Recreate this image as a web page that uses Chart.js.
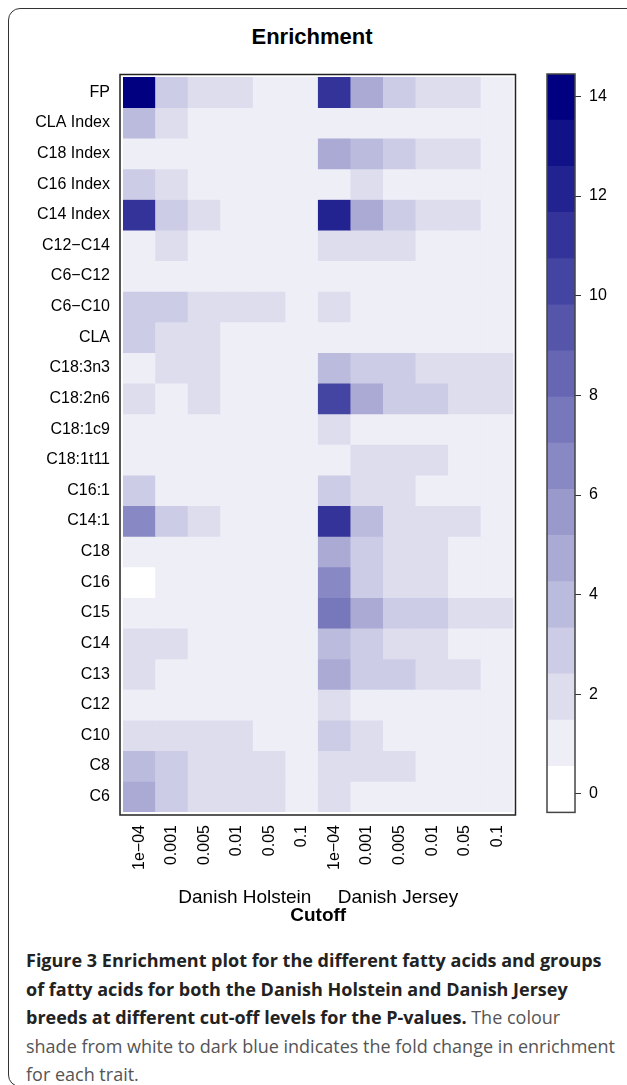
<!DOCTYPE html>
<html>
<head>
<meta charset="utf-8">
<script src="https://cdn.jsdelivr.net/npm/chart.js@4.4.1/dist/chart.umd.min.js"></script>
<style>
  html, body { margin: 0; padding: 0; background: #fff; overflow: hidden; }
  body { width: 627px; height: 1085px; position: relative; font-family: 'Liberation Sans', Arial, sans-serif; }
  #frame { position: absolute; left: 8px; top: 8px; width: 700px; height: 1079px; border: 1.5px solid #333; border-radius: 12px; box-sizing: border-box; }
  #title { position: absolute; left: 0; width: 624px; top: 24px; text-align: center; font-weight: bold; font-size: 22px; line-height: 26px; color: #000; }
  #heat { position: absolute; left: 0; top: 0; }
  #key { position: absolute; left: 520px; top: 0; }
  #caption { position: absolute; left: 26px; top: 946px; white-space: nowrap; font-family: 'Open Sans', Lato, sans-serif; font-size: 18px; line-height: 28.5px; color: #555; }
  #caption b { color: #222; font-weight: 700; }
</style>
</head>
<body>
<div id="frame"></div>
<div id="title">Enrichment</div>
<canvas id="heat" width="530" height="927"></canvas>
<canvas id="key" width="107" height="830"></canvas>
<div id="caption"><b>Figure 3 Enrichment plot for the different fatty acids and groups<br>of fatty acids for both the Danish Holstein and Danish Jersey<br>breeds at different cut-off levels for the P-values.</b> The colour<br>shade from white to dark blue indicates the fold change in enrichment<br>for each trait.</div>
<script>
// rows top to bottom, columns = p-value cut-offs for each breed
const rows = ['FP', 'CLA Index', 'C18 Index', 'C16 Index', 'C14 Index', 'C12−C14', 'C6−C12', 'C6−C10',
  'CLA', 'C18:3n3', 'C18:2n6', 'C18:1c9', 'C18:1t11', 'C16:1', 'C14:1', 'C18', 'C16', 'C15',
  'C14', 'C13', 'C12', 'C10', 'C8', 'C6'];
const cutoffs = ['1e−04', '0.001', '0.005', '0.01', '0.05', '0.1'];

// fold change in enrichment, Danish Holstein
const holstein = [
  [14.1, 2.9, 2.0, 2.0, 1.0, 1.0],
  [3.8, 2.0, 1.0, 1.0, 1.0, 1.0],
  [1.0, 1.0, 1.0, 1.0, 1.0, 1.0],
  [2.9, 2.0, 1.0, 1.0, 1.0, 1.0],
  [11.2, 2.9, 2.0, 1.0, 1.0, 1.0],
  [1.0, 2.0, 1.0, 1.0, 1.0, 1.0],
  [1.0, 1.0, 1.0, 1.0, 1.0, 1.0],
  [2.9, 2.9, 2.0, 2.0, 2.0, 1.0],
  [2.9, 2.0, 2.0, 1.0, 1.0, 1.0],
  [1.0, 2.0, 2.0, 1.0, 1.0, 1.0],
  [2.0, 1.0, 2.0, 1.0, 1.0, 1.0],
  [1.0, 1.0, 1.0, 1.0, 1.0, 1.0],
  [1.0, 1.0, 1.0, 1.0, 1.0, 1.0],
  [2.9, 1.0, 1.0, 1.0, 1.0, 1.0],
  [6.5, 2.9, 2.0, 1.0, 1.0, 1.0],
  [1.0, 1.0, 1.0, 1.0, 1.0, 1.0],
  [0.0, 1.0, 1.0, 1.0, 1.0, 1.0],
  [1.0, 1.0, 1.0, 1.0, 1.0, 1.0],
  [2.0, 2.0, 1.0, 1.0, 1.0, 1.0],
  [2.0, 1.0, 1.0, 1.0, 1.0, 1.0],
  [1.0, 1.0, 1.0, 1.0, 1.0, 1.0],
  [2.0, 2.0, 2.0, 2.0, 1.0, 1.0],
  [3.8, 2.9, 2.0, 2.0, 2.0, 1.0],
  [4.7, 2.9, 2.0, 2.0, 2.0, 1.0]
];

// fold change in enrichment, Danish Jersey
const jersey = [
  [11.2, 4.7, 2.9, 2.0, 2.0, 1.0],
  [1.0, 1.0, 1.0, 1.0, 1.0, 1.0],
  [4.7, 3.8, 2.9, 2.0, 2.0, 1.0],
  [1.0, 2.0, 1.0, 1.0, 1.0, 1.0],
  [12.1, 4.7, 2.9, 2.0, 2.0, 1.0],
  [2.0, 2.0, 2.0, 1.0, 1.0, 1.0],
  [1.0, 1.0, 1.0, 1.0, 1.0, 1.0],
  [2.0, 1.0, 1.0, 1.0, 1.0, 1.0],
  [1.0, 1.0, 1.0, 1.0, 1.0, 1.0],
  [3.8, 2.9, 2.9, 2.0, 2.0, 2.0],
  [10.3, 4.7, 2.9, 2.9, 2.0, 2.0],
  [2.0, 1.0, 1.0, 1.0, 1.0, 1.0],
  [1.0, 2.0, 2.0, 2.0, 1.0, 1.0],
  [2.9, 2.0, 2.0, 1.0, 1.0, 1.0],
  [11.2, 3.8, 2.0, 2.0, 2.0, 1.0],
  [4.7, 2.9, 2.0, 2.0, 1.0, 1.0],
  [6.5, 2.9, 2.0, 2.0, 1.0, 1.0],
  [7.5, 4.7, 2.9, 2.9, 2.0, 2.0],
  [3.8, 2.9, 2.0, 2.0, 1.0, 1.0],
  [4.7, 2.9, 2.9, 2.0, 2.0, 1.0],
  [2.0, 1.0, 1.0, 1.0, 1.0, 1.0],
  [2.9, 2.0, 1.0, 1.0, 1.0, 1.0],
  [2.0, 2.0, 2.0, 1.0, 1.0, 1.0],
  [2.0, 1.0, 1.0, 1.0, 1.0, 1.0]
];

// colour key: range and tick labels
const keyMin = -0.37;
const keyMax = 14.45;
const keyBins = 16;
const keyTicks = [0, 2, 4, 6, 8, 10, 12, 14];

Chart.defaults.font.family = "'Liberation Sans', Arial, sans-serif";
Chart.defaults.color = '#000';

const binWidth = (keyMax - keyMin) / keyBins;

function binOf(v) {
  return Math.min(keyBins - 1, Math.max(0, Math.floor((v - keyMin) / binWidth)));
}

// white -> navy ramp
function binColour(k) {
  const t = k / (keyBins - 1);
  const rg = Math.round(255 * (1 - t));
  const b = Math.round(255 - 127 * t);
  return `rgb(${rg},${rg},${b})`;
}

// box drawn around the chart area
const framePlugin = {
  id: 'frame',
  afterDraw(chart, args, opts) {
    const a = chart.chartArea;
    const ctx = chart.ctx;
    const p = opts.pad;
    ctx.save();
    ctx.strokeStyle = opts.color;
    ctx.lineWidth = opts.width;
    ctx.strokeRect(a.left - p[0], a.top - p[1], a.width + p[0] + p[2], a.height + p[1] + p[3]);
    ctx.restore();
  }
};

const heatSets = rows.map((name, i) => {
  const vals = holstein[i].concat(jersey[i]);
  return {
    label: name,
    data: vals.map(() => [i, i + 1]),
    backgroundColor: vals.map(v => binColour(binOf(v))),
    borderWidth: 0,
    barPercentage: 1,
    categoryPercentage: 1,
    grouped: false
  };
});

new Chart(document.getElementById('heat'), {
  type: 'bar',
  data: { labels: cutoffs.concat(cutoffs), datasets: heatSets },
  plugins: [framePlugin],
  options: {
    responsive: false,
    animation: false,
    layout: { padding: { top: 77, right: 14, left: 0, bottom: 0 } },
    plugins: {
      legend: { display: false },
      tooltip: { enabled: false },
      frame: { color: '#222', width: 1.5, pad: [3, 2.5, 2, 3] }
    },
    scales: {
      x: {
        type: 'category',
        position: 'bottom',
        weight: 0,
        grid: { display: false, drawTicks: false },
        border: { display: false },
        ticks: { minRotation: 90, maxRotation: 90, autoSkip: false, padding: 13, font: { size: 16 } },
        title: { display: true, text: 'Danish Holstein     Danish Jersey', font: { size: 19 }, padding: { top: 0, bottom: 0 } },
        afterFit(s) { s.height = 97; }
      },
      x2: {
        type: 'category',
        position: 'bottom',
        weight: 1,
        grid: { display: false, drawTicks: false },
        border: { display: false },
        ticks: { display: false },
        title: { display: true, text: 'Cutoff', font: { size: 19, weight: 'bold' }, padding: { top: 0, bottom: 0 } },
        afterFit(s) { s.height = 18; }
      },
      y: {
        type: 'linear',
        min: 0,
        max: rows.length,
        reverse: true,
        grid: { display: false, drawTicks: false },
        border: { display: false },
        ticks: { autoSkip: false, padding: 13, font: { size: 16 }, callback: v => rows[Math.floor(v)] },
        afterBuildTicks(s) { s.ticks = rows.map((r, i) => ({ value: i + 0.5 })); },
        afterFit(s) { s.width = 123; }
      }
    }
  }
});

// colour key as a one-column floating bar chart
const keySets = [];
for (let k = 0; k < keyBins; k++) {
  keySets.push({
    data: [[keyMin + k * binWidth, keyMin + (k + 1) * binWidth]],
    backgroundColor: binColour(k),
    borderWidth: 0,
    barPercentage: 1,
    categoryPercentage: 1,
    grouped: false
  });
}

new Chart(document.getElementById('key'), {
  type: 'bar',
  data: { labels: ['key'], datasets: keySets },
  plugins: [framePlugin],
  options: {
    responsive: false,
    animation: false,
    layout: { padding: { top: 74, left: 27, right: 0, bottom: 15 } },
    plugins: {
      legend: { display: false },
      tooltip: { enabled: false },
      frame: { color: '#444', width: 1.5, pad: [0, 0, 0, 0] }
    },
    scales: {
      x: { display: false },
      y: {
        type: 'linear',
        position: 'right',
        min: keyMin,
        max: keyMax,
        grid: { drawOnChartArea: false, drawTicks: true, tickLength: 6, color: '#333', lineWidth: 1 },
        border: { display: false },
        ticks: { padding: 8, font: { size: 16 } },
        afterBuildTicks(s) { s.ticks = keyTicks.map(v => ({ value: v })); },
        afterFit(s) { s.width = 52; }
      }
    }
  }
});
</script>
</body>
</html>
